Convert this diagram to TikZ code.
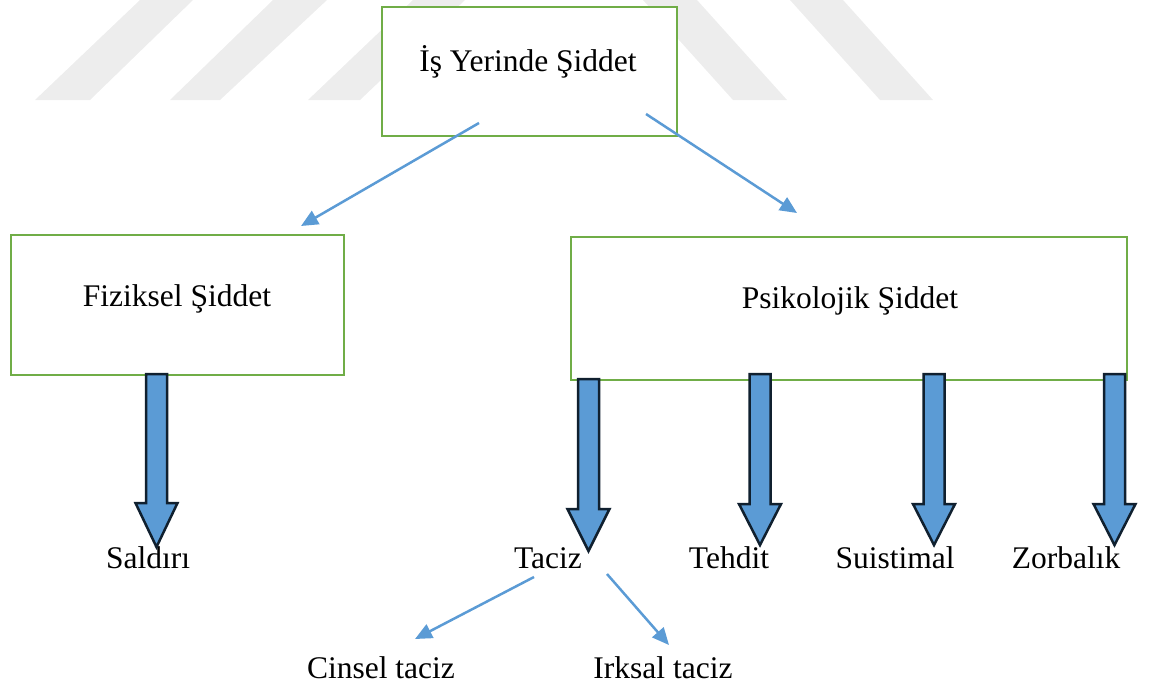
\documentclass[tikz,border=0pt]{standalone}
\usepackage{fontspec}
\setmainfont{Liberation Serif}
\usetikzlibrary{arrows.meta}
\definecolor{boxgreen}{HTML}{70AD47}
\definecolor{lineblue}{HTML}{5B9BD5}
\definecolor{arrowedge}{HTML}{10202F}
\definecolor{wmgray}{HTML}{EDEDED}
\tikzset{
  greenbox/.style={draw=boxgreen, line width=2.5pt, fill=white, inner sep=0pt},
  lbl/.style={inner sep=0pt, anchor=base, font=\fontsize{31.5}{36}\selectfont},
  thinarrow/.style={draw=lineblue, line width=2.5pt, -{Triangle[length=17pt,width=15pt]}},
  blockarrow/.style={draw=arrowedge, fill=lineblue, line width=2.5pt, line join=miter},
  wm/.style={fill=wmgray, draw=none}
}
% block arrow: centre x, top y, head base y, tip y
\newcommand\blockarr[4]{%
  \path[blockarrow] (#1-10.5,#2) -- (#1+10.5,#2) -- (#1+10.5,#3) -- (#1+21,#3)
    -- (#1,#4) -- (#1-21,#3) -- (#1-10.5,#3) -- cycle;}
\begin{document}
\begin{tikzpicture}[x=1pt,y=-1pt]
\useasboundingbox (0,0) rectangle (1151,686);
% watermark
\fill[wm] (140,0) -- (193,0) -- (90,100) -- (35,100) -- cycle;
\fill[wm] (273,0) -- (327,0) -- (220,100) -- (170,100) -- cycle;
\fill[wm] (413,0) -- (465,0) -- (360,100) -- (308,100) -- cycle;
\fill[wm] (643,0) -- (697,0) -- (787,100) -- (733,100) -- cycle;
\fill[wm] (790,0) -- (843,0) -- (933,100) -- (880,100) -- cycle;

% boxes
\node[greenbox, minimum width=295pt, minimum height=129pt] (top) at (529.5,71.5) {};
\node[greenbox, minimum width=333pt, minimum height=140pt] (fiz) at (177.5,305) {};
\node[greenbox, minimum width=556pt, minimum height=143pt] (psi) at (849,308.5) {};

\node[lbl] (topt) at (528,71) {İş Yerinde Şiddet};
\node[lbl] (fizt) at (177,306) {Fiziksel Şiddet};
\node[lbl] (psit) at (850,308) {Psikolojik Şiddet};

% leaf labels
\node[lbl] (sal) at (148,568) {Saldırı};
\node[lbl] (tac) at (548,568) {Taciz};
\node[lbl] (teh) at (729,568) {Tehdit};
\node[lbl] (sui) at (895,568) {Suistimal};
\node[lbl] (zor) at (1066,568) {Zorbalık};
\node[lbl] (cin) at (381,678) {Cinsel taciz};
\node[lbl] (irk) at (663,678) {Irksal taciz};

% thin arrows
\coordinate (a1s) at (479,123);
\coordinate (a1e) at (301,226);
\coordinate (a2s) at (646,114);
\coordinate (a2e) at (797,213);
\coordinate (a3s) at (534,577);
\coordinate (a3e) at (415,639);
\coordinate (a4s) at (607,574);
\coordinate (a4e) at (669,645);
\draw[thinarrow] (a1s) -- (a1e);
\draw[thinarrow] (a2s) -- (a2e);
\draw[thinarrow] (a3s) -- (a3e);
\draw[thinarrow] (a4s) -- (a4e);

% block arrows
\blockarr{156.5}{374}{503}{547}
\blockarr{588.5}{379}{509}{551}
\blockarr{760}{374}{504}{545}
\blockarr{934}{374}{504}{545}
\blockarr{1114.5}{374}{504}{545}
\end{tikzpicture}
\end{document}
